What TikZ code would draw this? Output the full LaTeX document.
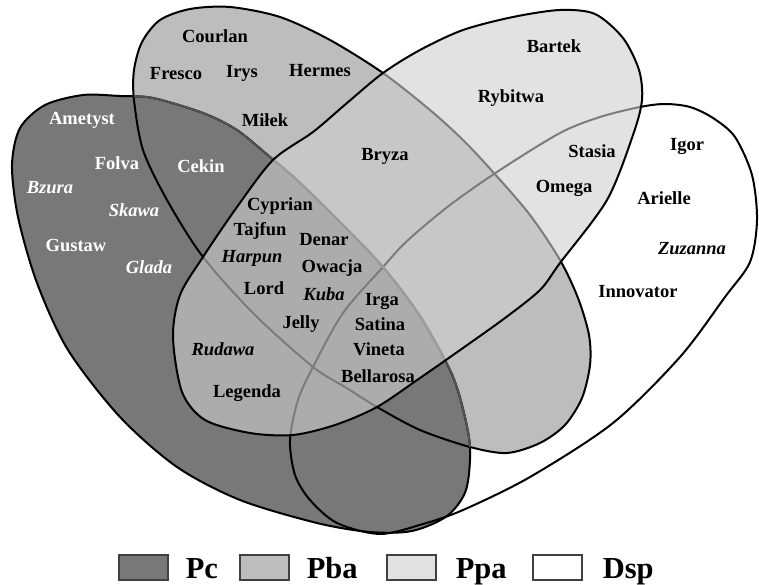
\documentclass[tikz,border=0pt]{standalone}
\usepackage{fontspec}
\setmainfont{Liberation Serif}
\usetikzlibrary{positioning}

\definecolor{pccol}{gray}{0.47}
\definecolor{pbacol}{gray}{0.74}
\definecolor{ppacol}{gray}{0.81}
\definecolor{ppakey}{gray}{0.886}
\definecolor{pcedge}{gray}{0.32}
\definecolor{keyedge}{gray}{0.25}

% outlines of the four sets (y grows downwards)
\newcommand{\pcpath}{plot[smooth cycle] coordinates {(12,165) (20,128) (45,105) (83,95) (120,96) (153,98) (203,113) (237,130) (270,157) (297,180) (340,222) (383,267) (420,316) (450,370) (462,405) (470,447) (466,490) (447,516) (412,531) (370,532) (317,523) (240,500) (177,467) (120,417) (68,350) (37,283) (18,217)}}
\newcommand{\pbapath}{plot[smooth cycle] coordinates {(134,100) (134,70) (142,42) (160,20) (190,9) (230,7) (280,17) (330,40) (383,73) (430,110) (463,140) (493,172) (530,215) (560,260) (578,298) (589,335) (590,365) (582,398) (565,425) (540,443) (507,453) (470,447) (420,430) (377,407) (345,387) (313,367) (255,315) (203,257) (167,200) (143,150)}}
\newcommand{\ppapath}{plot[smooth cycle] coordinates {(173,337) (180,295) (203,257) (237,207) (273,160) (313,132) (347,103) (383,73) (420,50) (463,30) (513,17) (560,10) (595,14) (623,38) (639,70) (642,100) (633,135) (607,200) (560,263) (540,290) (505,318) (463,348) (420,378) (377,407) (335,425) (293,435) (250,433) (205,420) (182,392)}}
\newcommand{\dsppath}{plot[smooth cycle] coordinates {(290,440) (298,400) (313,367) (343,313) (383,267) (407,241) (450,205) (500,170) (560,133) (600,117) (640,107) (665,104) (690,107) (713,118) (735,137) (752,175) (757,220) (750,262) (725,297) (680,357) (613,423) (530,477) (463,510) (423,524) (380,534) (337,523) (310,500) (295,475)}}

\begin{document}
\begin{tikzpicture}[x=1pt,y=-1pt,
	ln/.style={draw=black,line width=2pt},
	lbl/.style={inner sep=0pt,font=\fontsize{18.5}{20}\selectfont\bfseries},
	lbli/.style={inner sep=0pt,font=\fontsize{18.5}{20}\selectfont\bfseries\itshape},
	onpc/.style={text=white},
	keybox/.style={draw=keyedge,line width=1.2pt,minimum width=49pt,minimum height=25pt,inner sep=0pt},
	keytext/.style={inner sep=0pt,text height=21pt,text depth=0pt,font=\fontsize{30.5}{32}\selectfont\bfseries}]
	\useasboundingbox (0,0) rectangle (759,585);

	% sets
	\fill[white] \dsppath;
	\fill[pbacol] \pbapath;
	\fill[pccol] \pcpath;
	\draw[ln] \dsppath;
	\draw[ln] \pbapath;
	\draw[ln] \pcpath;
	\begin{scope}
		\clip \pbapath;
		\draw[ln,draw=pcedge] \pcpath;
	\end{scope}
	\fill[ppacol,fill opacity=0.6] \ppapath;
	\draw[ln] \ppapath;

	% cultivars
	\node[lbl] (courlan) at (215,36) {Courlan};
	\node[lbl] (fresco) at (176,74) {Fresco};
	\node[lbl] (irys) at (242,73) {Irys};
	\node[lbl] (hermes) at (320,71) {Hermes};
	\node[lbl] (milek) at (265,120) {Miłek};
	\node[lbl,onpc] (ametyst) at (82,120) {Ametyst};
	\node[lbl,onpc] (folva) at (117,163) {Folva};
	\node[lbl,onpc] (cekin) at (201,166) {Cekin};
	\node[lbli,onpc] (bzura) at (50,188) {Bzura};
	\node[lbli,onpc] (skawa) at (134,210) {Skawa};
	\node[lbl,onpc] (gustaw) at (76,245) {Gustaw};
	\node[lbli,onpc] (glada) at (149,267) {Glada};
	\node[lbl] (cyprian) at (280,206) {Cyprian};
	\node[lbl] (tajfun) at (260,231) {Tajfun};
	\node[lbl] (denar) at (324,240) {Denar};
	\node[lbli] (harpun) at (252,258) {Harpun};
	\node[lbl] (owacja) at (332,268) {Owacja};
	\node[lbl] (lord) at (264,288) {Lord};
	\node[lbli] (kuba) at (324,294) {Kuba};
	\node[lbl] (irga) at (382,301) {Irga};
	\node[lbl] (jelly) at (301,324) {Jelly};
	\node[lbl] (satina) at (380,324) {Satina};
	\node[lbl] (vineta) at (379,349) {Vineta};
	\node[lbl] (bellarosa) at (378,376) {Bellarosa};
	\node[lbli] (rudawa) at (223,349) {Rudawa};
	\node[lbl] (legenda) at (247,393) {Legenda};
	\node[lbl] (bryza) at (385,156) {Bryza};
	\node[lbl] (bartek) at (554,46) {Bartek};
	\node[lbl] (rybitwa) at (511,98) {Rybitwa};
	\node[lbl] (stasia) at (592,151) {Stasia};
	\node[lbl] (omega) at (564,188) {Omega};
	\node[lbl] (igor) at (687,146) {Igor};
	\node[lbl] (arielle) at (664,198) {Arielle};
	\node[lbli] (zuzanna) at (692,249) {Zuzanna};
	\node[lbl] (innovator) at (638,292) {Innovator};

	% key
	\node[keybox,fill=pccol] (keypc) at (143.5,567.5) {};
	\node[keytext,right=17pt of keypc] (txtpc) {Pc};
	\node[keybox,fill=pbacol] (keypba) at (264.5,567.5) {};
	\node[keytext,right=17pt of keypba] (txtpba) {Pba};
	\node[keybox,fill=ppakey] (keyppa) at (411.5,567.5) {};
	\node[keytext,right=19pt of keyppa] (txtppa) {Ppa};
	\node[keybox,fill=white] (keydsp) at (557.5,567.5) {};
	\node[keytext,right=20pt of keydsp] (txtdsp) {Dsp};
\end{tikzpicture}
\end{document}
